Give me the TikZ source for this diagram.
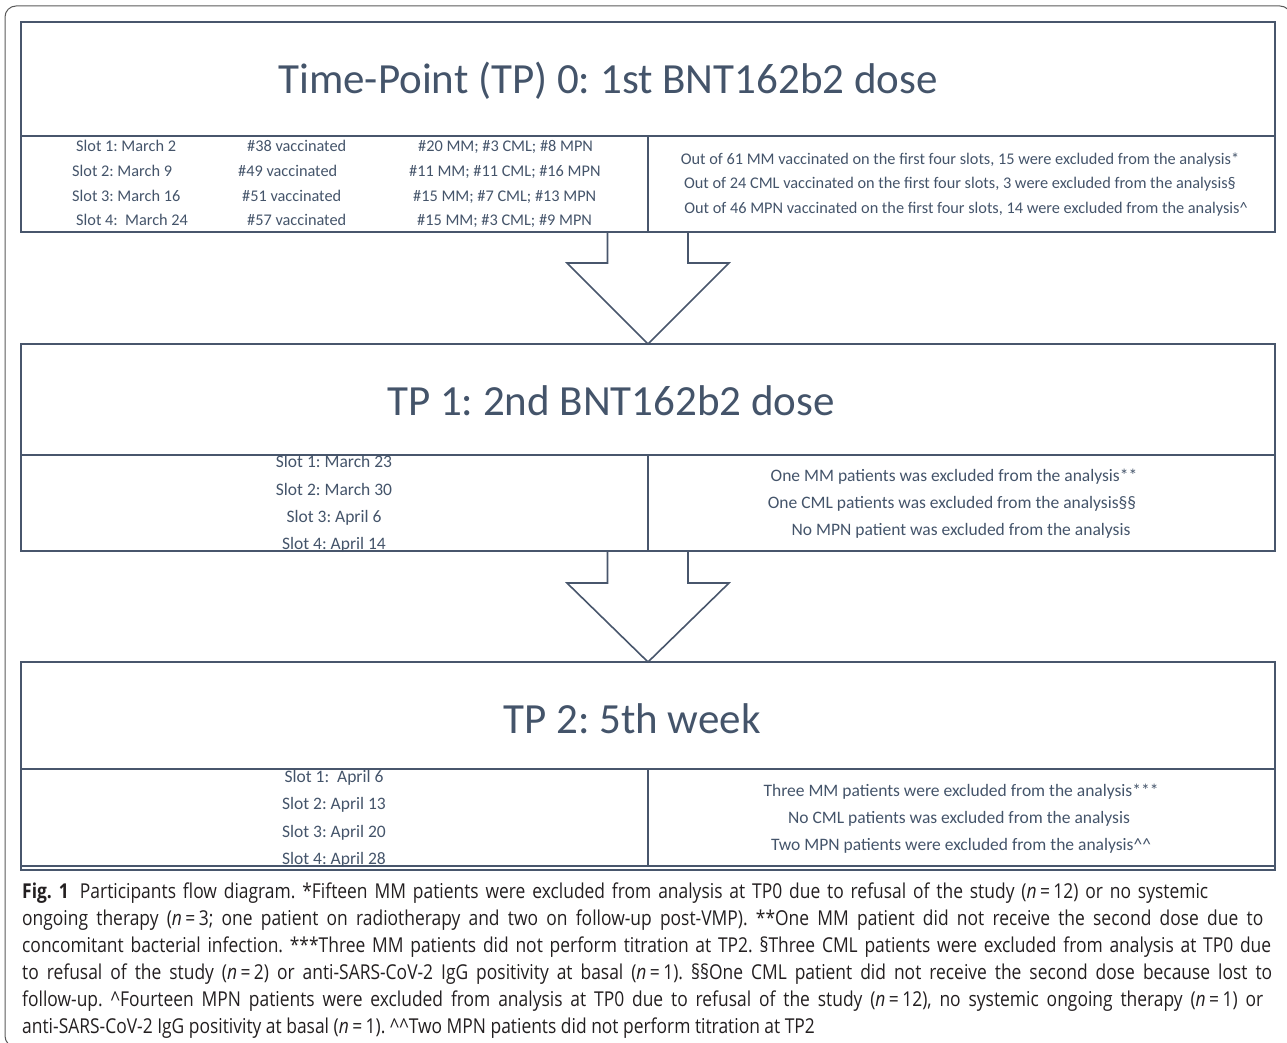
\documentclass[tikz,border=0pt]{standalone}
\usepackage{fontspec}
\usetikzlibrary{calc}
\newfontfamily\carlito{Carlito}
\newfontfamily\capfont[FakeStretch=0.85]{Open Sans}
\definecolor{txtc}{RGB}{68,84,106}
\definecolor{boxc}{RGB}{72,86,108}
\definecolor{capc}{RGB}{35,31,32}
\definecolor{framec}{RGB}{90,90,90}
\frenchspacing
\newcommand\capLine[2]{\hbox to #1{#2}}
\tikzset{
  cell/.style={draw=boxc, line width=1.8pt, rectangle, inner sep=0pt, outer sep=0pt, anchor=north west},
  ttl/.style={text=txtc, font=\frenchspacing\carlito\fontsize{43}{50}\selectfont, inner sep=0pt, anchor=base},
  sm/.style={text=txtc, font=\frenchspacing\carlito\fontsize{16.3}{20}\selectfont, inner sep=0pt},
  md/.style={text=txtc, font=\frenchspacing\carlito\fontsize{17.5}{21}\selectfont, inner sep=0pt, anchor=base},
  captxt/.style={text=capc, font=\frenchspacing\capfont\fontsize{20.5}{27}\selectfont, anchor=base west, inner sep=0pt},
  blockarrow/.style={draw=boxc, line width=1.6pt, line join=miter},
}
\begin{document}
\begin{tikzpicture}[x=1pt,y=-1pt]
\useasboundingbox (0,0) rectangle (1287,1043);
\clip (0,0) rectangle (1287,1043);
% outer frame
\draw[framec, line width=1pt, rounded corners=11pt] (5,6) rectangle (1291,1047);

% TP0 block
\node[cell, minimum width=1254pt, minimum height=114pt] (t0) at (21,22) {};
\node[cell, minimum width=627pt, minimum height=96pt] (l0) at (21,136) {};
\node[cell, minimum width=627pt, minimum height=96pt] (r0) at (648,136) {};
\node[ttl] (t0txt) at (608,94) {Time-Point (TP) 0: 1st BNT162b2 dose};

\node[sm, anchor=base west] (s01) at (76,152) {Slot 1: March 2};
\node[sm, anchor=base west] (s02) at (72,176.5) {Slot 2: March 9};
\node[sm, anchor=base west] (s03) at (72,201) {Slot 3: March 16};
\node[sm, anchor=base west] (s04) at (76,225.5) {Slot 4:\ \ March 24};
\node[sm, anchor=base west] (v01) at (247,152) {\#38 vaccinated};
\node[sm, anchor=base west] (v02) at (238,176.5) {\#49 vaccinated};
\node[sm, anchor=base west] (v03) at (242,201) {\#51 vaccinated};
\node[sm, anchor=base west] (v04) at (247,225.5) {\#57 vaccinated};
\node[sm, anchor=base west] (d01) at (418,152) {\#20 MM; \#3 CML; \#8 MPN};
\node[sm, anchor=base west] (d02) at (409,176.5) {\#11 MM; \#11 CML; \#16 MPN};
\node[sm, anchor=base west] (d03) at (413,201) {\#15 MM; \#7 CML; \#13 MPN};
\node[sm, anchor=base west] (d04) at (417,225.5) {\#15 MM; \#3 CML; \#9 MPN};

\node[sm, anchor=base] (e01) at (960,164.5) {Out of 61 MM vaccinated on the first four slots, 15 were excluded from the analysis*};
\node[sm, anchor=base] (e02) at (960,189) {Out of 24 CML vaccinated on the first four slots, 3 were excluded from the analysis§};
\node[sm, anchor=base] (e03) at (966,213.5) {Out of 46 MPN vaccinated on the first four slots, 14 were excluded from the analysis\textasciicircum};

% TP1 block
\node[cell, minimum width=1254pt, minimum height=111pt] (t1) at (21,344) {};
\node[cell, minimum width=627pt, minimum height=96pt] (l1) at (21,455) {};
\node[cell, minimum width=627pt, minimum height=96pt] (r1) at (648,455) {};
\node[ttl] (t1txt) at (611,415) {TP 1: 2nd BNT162b2 dose};

\node[md] (s11) at (334,467) {Slot 1: March 23};
\node[md] (s12) at (334,495) {Slot 2: March 30};
\node[md] (s13) at (334,522) {Slot 3: April 6};
\node[md] (s14) at (334,549.5) {Slot 4: April 14};
\node[md] (e11) at (954,481) {One MM patients was excluded from the analysis**};
\node[md] (e12) at (952,508) {One CML patients was excluded from the analysis§§};
\node[md] (e13) at (961,535) {No MPN patient was excluded from the analysis};

% TP2 block
\node[cell, minimum width=1254pt, minimum height=107pt] (t2) at (21,662) {};
\node[cell, minimum width=627pt, minimum height=97pt] (l2) at (21,769) {};
\node[cell, minimum width=627pt, minimum height=97pt] (r2) at (648,769) {};
\draw[boxc, line width=1.6pt] (l2.south west) -- ++(0,4) -- ($(r2.south east)+(0,4)$) -- (r2.south east);
\node[ttl] (t2txt) at (632,733) {TP 2: 5th week};

\node[md] (s21) at (334,782) {Slot 1:\ \ April 6};
\node[md] (s22) at (334,809) {Slot 2: April 13};
\node[md] (s23) at (334,837) {Slot 3: April 20};
\node[md] (s24) at (334,864) {Slot 4: April 28};
\node[md] (e21) at (961,796) {Three MM patients were excluded from the analysis***};
\node[md] (e22) at (959,823) {No CML patients was excluded from the analysis};
\node[md] (e23) at (961,850) {Two MPN patients were excluded from the analysis\textasciicircum\textasciicircum};

% block arrows
\draw[blockarrow] ([xshift=-40.5pt]l0.south east) -- ++(0,31) -- ++(-40.5,0) -- (t1.north) -- ++(81,-81) -- ++(-41,0) -- ([xshift=40pt]r0.south west);
\draw[blockarrow] ([xshift=-40.5pt]l1.south east) -- ++(0,32) -- ++(-40.5,0) -- (t2.north) -- ++(81,-79) -- ++(-41,0) -- ([xshift=40pt]r1.south west);

% caption
\node[captxt] (c1) at (22,898) {\capLine{1186pt}{{\bfseries Fig. 1}\hspace{0.55em}Participants flow diagram. *Fifteen MM patients were excluded from analysis at TP0 due to refusal of the study (\textit{n}\,=\,12) or no systemic}};
\node[captxt] (c2) at (22,925) {\capLine{1241pt}{ongoing therapy (\textit{n}\,=\,3; one patient on radiotherapy and two on follow-up post-VMP). **One MM patient did not receive the second dose due to}};
\node[captxt] (c3) at (22,952) {\capLine{1249pt}{concomitant bacterial infection. ***Three MM patients did not perform titration at TP2. §Three CML patients were excluded from analysis at TP0 due}};
\node[captxt] (c4) at (22,979) {\capLine{1250pt}{to refusal of the study (\textit{n}\,=\,2) or anti-SARS-CoV-2 IgG positivity at basal (\textit{n}\,=\,1). §§One CML patient did not receive the second dose because lost to}};
\node[captxt] (c5) at (22,1006) {\capLine{1241pt}{follow-up. \textasciicircum Fourteen MPN patients were excluded from analysis at TP0 due to refusal of the study (\textit{n}\,=\,12), no systemic ongoing therapy (\textit{n}\,=\,1) or}};
\node[captxt] (c6) at (22,1033) {anti-SARS-CoV-2 IgG positivity at basal (\textit{n}\,=\,1). \textasciicircum\textasciicircum Two MPN patients did not perform titration at TP2};
\end{tikzpicture}
\end{document}
